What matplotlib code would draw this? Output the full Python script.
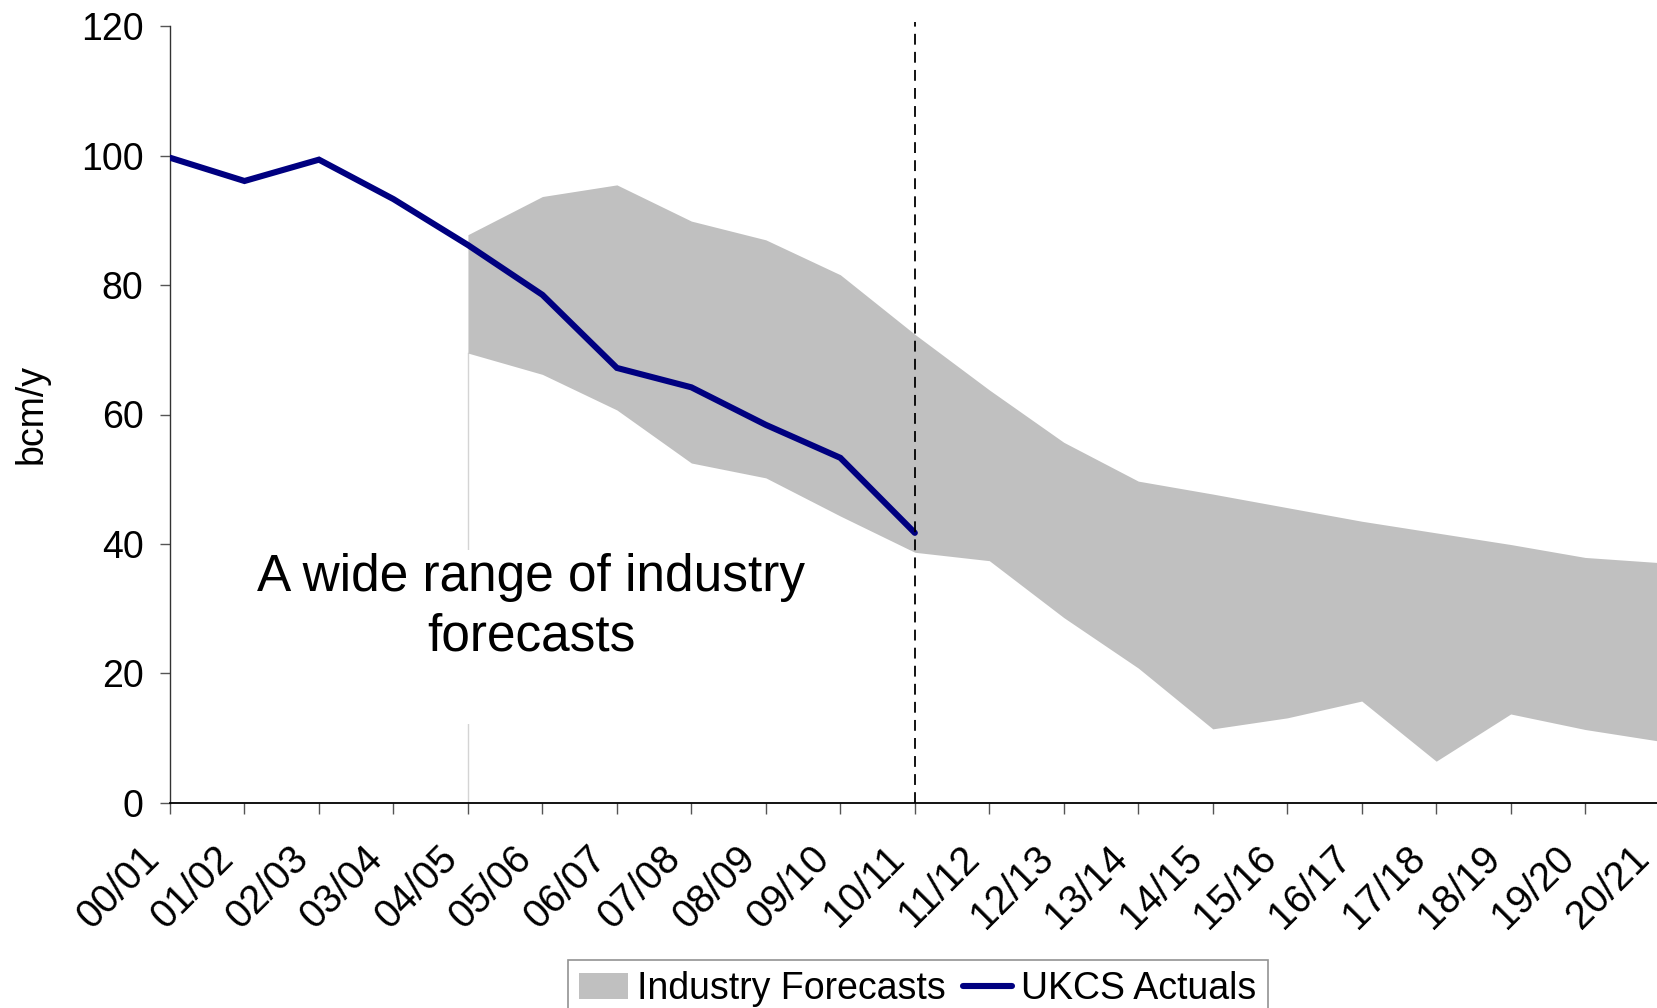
import matplotlib
matplotlib.use("Agg")
import matplotlib.pyplot as plt
import matplotlib.transforms as mtransforms
import numpy as np

years = ["00/01", "01/02", "02/03", "03/04", "04/05", "05/06", "06/07", "07/08",
         "08/09", "09/10", "10/11", "11/12", "12/13", "13/14", "14/15", "15/16",
         "16/17", "17/18", "18/19", "19/20", "20/21"]

actuals = [99.7, 96.1, 99.4, 93.3, 86.2, 78.5, 67.2, 64.2, 58.4, 53.3, 41.7]

forecast_years = years[4:]
forecast_upper = [87.8, 93.7, 95.5, 89.9, 87.0, 81.6, 72.4, 63.8, 55.7, 49.7,
                  47.7, 45.6, 43.5, 41.7, 39.9, 37.9, 37.1]
forecast_lower = [69.5, 66.2, 60.7, 52.5, 50.2, 44.3, 38.7, 37.4, 28.6, 20.8,
                  11.4, 13.1, 15.7, 6.4, 13.7, 11.3, 9.5]

last_actual_year = "10/11"
annotation = "A wide range of industry\nforecasts\n"

plt.rcParams['font.family'] = ['Liberation Sans', 'DejaVu Sans']

fig = plt.figure(figsize=(16.58, 10.08), dpi=100)
ax = fig.add_axes([170/1658, 1-802.6/1008, 1-170/1658 + 0.001, (802.6-26.4)/1008])

xi = np.arange(len(years))
xf = np.array([years.index(y) for y in forecast_years])
xa = xi[:len(actuals)]

# thin edge of forecast region
ax.plot([xf[0], xf[0]], [0, forecast_lower[0]], color="#d4d4d4", lw=1.0, zorder=1)

ax.fill_between(xf, forecast_lower, forecast_upper, color="#c0c0c0", lw=0,
                zorder=2, label="Industry Forecasts")
ax.plot(xa, actuals, color="#000080", lw=4.4, zorder=4, label="UKCS Actuals",
        solid_capstyle="round", solid_joinstyle="miter")

ax.axvline(years.index(last_actual_year), ymin=0, ymax=1.006, color="black",
           lw=1.3, dashes=(6, 4), zorder=5, clip_on=False)

ax.text(4.85, 38.6, annotation, fontsize=37, ha="center", va="top",
        linespacing=1.28, zorder=1.5,
        bbox=dict(boxstyle="square,pad=0.05", fc="white", ec="none"))

ax.set_xlim(0, 20)
ax.set_ylim(0, 120)
ax.set_yticks(range(0, 121, 20))
ax.set_xticks(xi)

for s in ["top", "right"]:
    ax.spines[s].set_visible(False)
ax.spines["left"].set_color("#333333")
ax.spines["bottom"].set_color("black")
ax.spines["left"].set_linewidth(1.0)
ax.spines["bottom"].set_linewidth(1.3)

ax.tick_params(axis="y", direction="out", length=7, width=1, color="#555555",
               labelsize=27, pad=12)
ax.tick_params(axis="x", direction="out", length=8, width=1, color="#555555",
               labelsize=28.5, pad=14)

ax.set_xticklabels(years, rotation=45, ha="right", va="top", rotation_mode="anchor")
offset = mtransforms.ScaledTranslation(-30/100, -6/100, fig.dpi_scale_trans)
for lbl in ax.get_xticklabels():
    lbl.set_transform(lbl.get_transform() + offset)

ax.set_ylabel("bcm/y", fontsize=27)
ax.yaxis.set_label_coords(-0.0806, 0.5)

leg = fig.legend(loc="upper left", bbox_to_anchor=(568/1658, 1-960/1008),
                 ncol=2, fontsize=27, frameon=True, fancybox=False,
                 borderaxespad=0, borderpad=0.3, handlelength=1.3,
                 handletextpad=0.25, columnspacing=0.45, handleheight=0.7)
leg.get_frame().set_edgecolor("#777777")
leg.get_frame().set_linewidth(1.2)

fig.savefig("out.png", dpi=100)
